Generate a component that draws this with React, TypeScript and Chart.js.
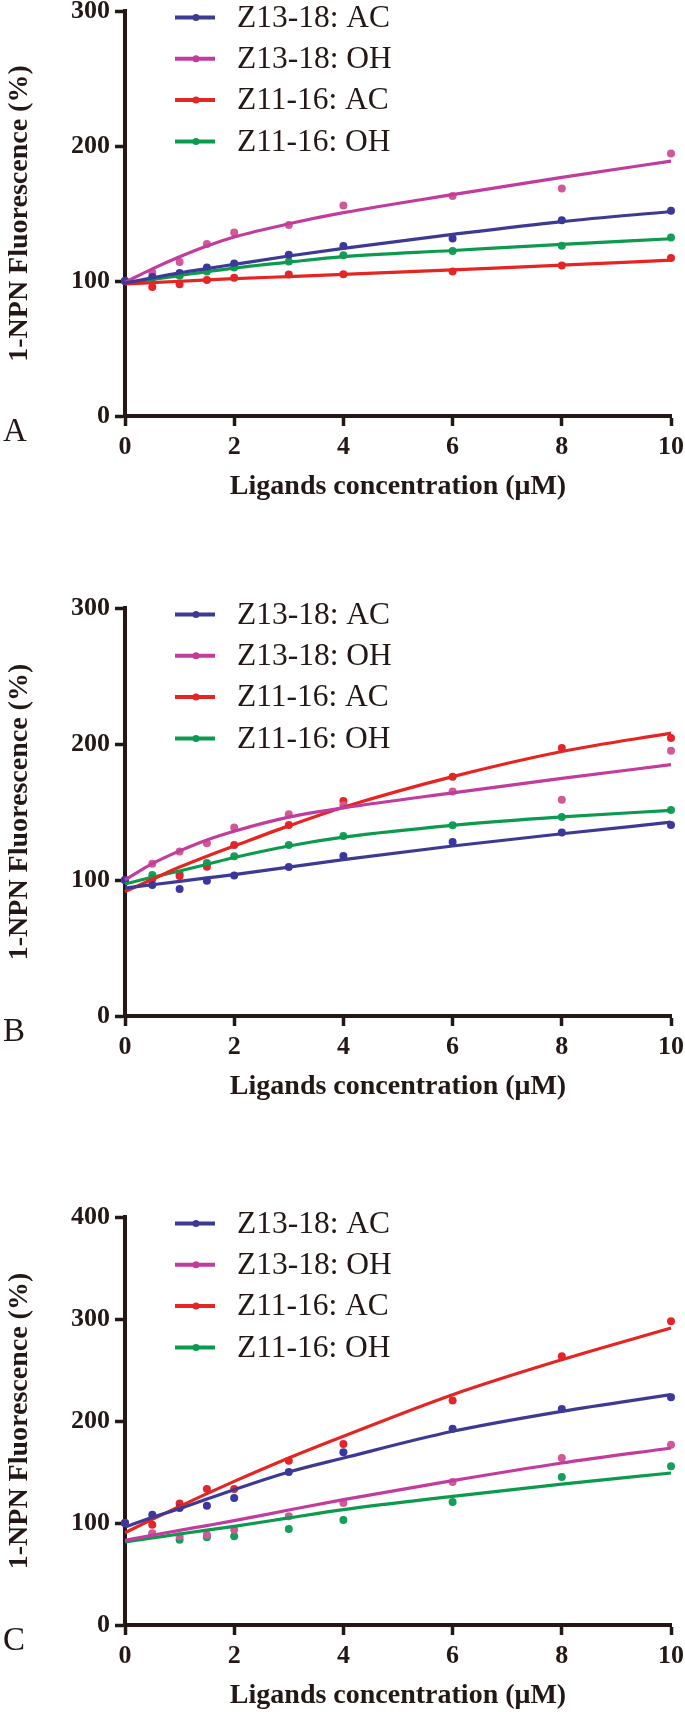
import React, { useEffect, useRef } from "react";
import { Chart, registerables } from "chart.js";

Chart.register(...registerables);

// ---------- shared ----------
const xValues = [0, 0.5, 1, 1.5, 2, 3, 4, 6, 8, 10];
const seriesLabels = ["Z13-18: AC", "Z13-18: OH", "Z11-16: AC", "Z11-16: OH"];
const lineColors = ["#3d3a94", "#c23c9e", "#e52521", "#0c9a4f"];
const dotColors = ["#3b36a0", "#d05a98", "#e3262b", "#14a05a"];
const xTickValues = [0, 2, 4, 6, 8, 10];
const yTicksAB = [0, 100, 200, 300];
const yTicksC = [0, 100, 200, 300, 400];
const xTitle = "Ligands concentration (\u03bcM)";
const yTitle = "1-NPN Fluorescence (%)";

// ---------- Panel A ----------
const aDotAC1318 = [100, 103, 106, 110, 113, 119.5, 126, 131.5, 145, 152];
const aDotOH1318 = [100, 106.3, 114, 127.4, 136, 141.4, 156, 163, 168.6, 194.5];
const aDotAC1116 = [100, 95.6, 97.6, 100.8, 102.5, 104.8, 105, 107, 111.5, 117];
const aDotOH1116 = [100, 102.5, 103.8, 107, 110, 114.5, 119, 122.3, 126.2, 132.3];
const aFitAC1318 = [98.5, 102.3, 106, 109.2, 112.3, 118.5, 124.2, 134.5, 144, 151.5];
const aFitOH1318 = [99, 109, 118, 126, 132.6, 142.4, 150.6, 164, 176.8, 188.8];
const aFitAC1116 = [97.8, 98.8, 99.8, 100.8, 101.7, 103.3, 104.9, 108.3, 111.7, 115.5];
const aFitOH1116 = [98.5, 101.2, 104, 107, 109.6, 114, 118, 122.6, 127.2, 131.3];

// ---------- Panel B ----------
const bDotAC1318 = [100, 96.3, 93.4, 99.5, 103.4, 109.6, 117.7, 128, 134.9, 140.5];
const bDotOH1318 = [100, 112, 121, 127, 138.6, 148.4, 155, 165, 159, 195];
const bDotAC1116 = [100, 100.7, 103, 109.8, 125.8, 140.5, 158, 176, 197, 204.4];
const bDotOH1116 = [100, 103.7, 104.5, 112.5, 117.5, 125.8, 132.4, 140.3, 146.4, 151.4];
const bFitAC1318 = [94, 96.5, 99, 101.5, 104, 109.5, 115, 125, 134, 142.5];
const bFitOH1318 = [100, 112, 121.4, 129.5, 135.9, 146.2, 153, 164.1, 174.7, 184.8];
const bFitAC1116 = [91.5, 100.5, 109.5, 117.5, 125, 139.8, 153.5, 176, 194.5, 208];
const bFitOH1116 = [97, 102, 106.6, 111.5, 116.5, 125, 131.5, 140.2, 146.4, 151.2];

// ---------- Panel C ----------
const cDotAC1318 = [100, 108.2, 114.7, 117, 124.5, 150, 169.3, 192.5, 211.8, 223.2];
const cDotOH1318 = [100, 90, 87, 88.6, 93.5, 106.5, 119.6, 140.2, 163.7, 176.8];
const cDotAC1116 = [100, 98.4, 119, 133.3, 133.3, 161, 177.5, 220, 263.4, 297.7];
const cDotOH1116 = [100, 89.2, 83.7, 86, 87, 94.1, 103, 120.6, 145.1, 155.6];
const cFitAC1318 = [96, 105.5, 114, 123.5, 132.7, 150, 163.7, 189.9, 209.5, 225.8];
const cFitOH1318 = [83, 88, 92.8, 97.5, 102.3, 112.7, 122.9, 141.5, 158.8, 173.5];
const cFitAC1116 = [90.5, 103.5, 116.3, 128.8, 140.8, 163.7, 185, 225.8, 260.1, 291.2];
const cFitOH1116 = [81.4, 85.3, 89.2, 93, 96.7, 105, 113.1, 126.1, 138.2, 149];

const INK = "#231815";
const SERIF = '"Liberation Serif", "Times New Roman", serif';

type PanelProps = {
  letter: string;
  top: number;
  height: number;
  padTop: number;
  yMax: number;
  yTicks: number[];
  dots: number[][];
  fits: number[][];
};

function toXY(ys: number[]) {
  return ys.map((y, i) => ({ x: xValues[i], y }));
}

function Panel(props: PanelProps) {
  const ref = useRef<HTMLCanvasElement | null>(null);

  useEffect(() => {
    const canvas = ref.current;
    if (!canvas) return;

    const overlay = {
      id: "insideLegend",
      afterDraw(chart: any) {
        const ctx = chart.ctx as CanvasRenderingContext2D;
        const area = chart.chartArea;
        ctx.save();
        ctx.font = "31px " + SERIF;
        const w0 = ctx.measureText(seriesLabels[0]).width || 153;
        const stretch = Math.min(1.35, Math.max(0.9, 153 / w0));
        seriesLabels.forEach((label, i) => {
          const y = area.top + 6.5 + i * 41.3;
          ctx.strokeStyle = lineColors[i];
          ctx.lineWidth = 4;
          ctx.beginPath();
          ctx.moveTo(175, y);
          ctx.lineTo(215, y);
          ctx.stroke();
          ctx.fillStyle = lineColors[i];
          ctx.beginPath();
          ctx.arc(196, y, 3.5, 0, Math.PI * 2);
          ctx.fill();
          ctx.save();
          ctx.translate(237, y + 1);
          ctx.scale(stretch, 1);
          ctx.fillStyle = INK;
          ctx.font = "31px " + SERIF;
          ctx.textAlign = "left";
          ctx.textBaseline = "middle";
          ctx.fillText(label, 0, 0);
          ctx.restore();
        });
        ctx.fillStyle = INK;
        ctx.font = "33px " + SERIF;
        ctx.textAlign = "left";
        ctx.textBaseline = "middle";
        ctx.fillText(props.letter, 3, area.bottom + 16);
        ctx.restore();
      },
    };

    const datasets: any[] = [];
    props.fits.forEach((ys, i) => {
      datasets.push({
        label: seriesLabels[i] + " fit",
        data: toXY(ys),
        borderColor: lineColors[i],
        backgroundColor: lineColors[i],
        borderWidth: 3.2,
        pointRadius: 0,
        cubicInterpolationMode: "monotone",
        fill: false,
        clip: 4,
      });
    });
    props.dots.forEach((ys, i) => {
      datasets.push({
        label: seriesLabels[i],
        data: toXY(ys),
        showLine: false,
        pointRadius: 4,
        pointBorderWidth: 0,
        pointBackgroundColor: dotColors[i],
        pointBorderColor: dotColors[i],
        borderColor: dotColors[i],
        clip: false,
      });
    });

    const chart = new Chart(canvas, {
      type: "line",
      data: { datasets },
      plugins: [overlay],
      options: {
        responsive: false,
        animation: false,
        maintainAspectRatio: false,
        layout: { padding: { top: props.padTop, right: 14, left: 0, bottom: 0 } },
        plugins: { legend: { display: false }, tooltip: { enabled: false }, title: { display: false } },
        scales: {
          x: {
            type: "linear",
            min: 0,
            max: 10,
            afterBuildTicks(scale: any) {
              scale.ticks = xTickValues.map((v) => ({ value: v }));
            },
            afterFit(scale: any) {
              scale.height = 88;
              scale.paddingLeft = 0;
              scale.paddingRight = 0;
            },
            grid: { drawOnChartArea: false, drawTicks: true, tickLength: 10, tickWidth: 3.5, tickColor: INK },
            border: { display: true, width: 4, color: INK },
            ticks: {
              padding: 6,
              color: INK,
              font: { family: SERIF, size: 26, weight: "bold" },
              maxRotation: 0,
              autoSkip: false,
            },
            title: {
              display: true,
              text: xTitle,
              color: INK,
              font: { family: SERIF, size: 28, weight: "bold" },
              padding: { top: 0, bottom: 0 },
            },
          },
          y: {
            type: "linear",
            min: 0,
            max: props.yMax,
            afterBuildTicks(scale: any) {
              scale.ticks = props.yTicks.map((v) => ({ value: v }));
            },
            afterFit(scale: any) {
              scale.width = 125;
              scale.paddingTop = 0;
              scale.paddingBottom = 0;
            },
            grid: { drawOnChartArea: false, drawTicks: true, tickLength: 10, tickWidth: 3.5, tickColor: INK },
            border: { display: true, width: 4, color: INK },
            ticks: {
              padding: 5,
              color: INK,
              font: { family: SERIF, size: 26, weight: "bold" },
              autoSkip: false,
            },
            title: {
              display: true,
              text: yTitle,
              color: INK,
              font: { family: SERIF, size: 28, weight: "bold" },
              padding: { top: 3, bottom: 0 },
            },
          },
        },
      },
    } as any);

    return () => chart.destroy();
  }, []);

  return (
    <canvas
      ref={ref}
      width={685}
      height={props.height}
      style={{ position: "absolute", left: 0, top: props.top, width: 685, height: props.height }}
    />
  );
}

export default function App() {
  return (
    <div style={{ position: "absolute", left: 0, top: 0, width: 685, height: 1712, background: "#ffffff", overflow: "hidden" }}>
      <Panel
        letter="A"
        top={0}
        height={504}
        padTop={11}
        yMax={300}
        yTicks={yTicksAB}
        dots={[aDotAC1318, aDotOH1318, aDotAC1116, aDotOH1116]}
        fits={[aFitAC1318, aFitOH1318, aFitAC1116, aFitOH1116]}
      />
      <Panel
        letter="B"
        top={540}
        height={564}
        padTop={68}
        yMax={300}
        yTicks={yTicksAB}
        dots={[bDotAC1318, bDotOH1318, bDotAC1116, bDotOH1116]}
        fits={[bFitAC1318, bFitOH1318, bFitAC1116, bFitOH1116]}
      />
      <Panel
        letter="C"
        top={1150}
        height={563}
        padTop={67}
        yMax={400}
        yTicks={yTicksC}
        dots={[cDotAC1318, cDotOH1318, cDotAC1116, cDotOH1116]}
        fits={[cFitAC1318, cFitOH1318, cFitAC1116, cFitOH1116]}
      />
    </div>
  );
}
